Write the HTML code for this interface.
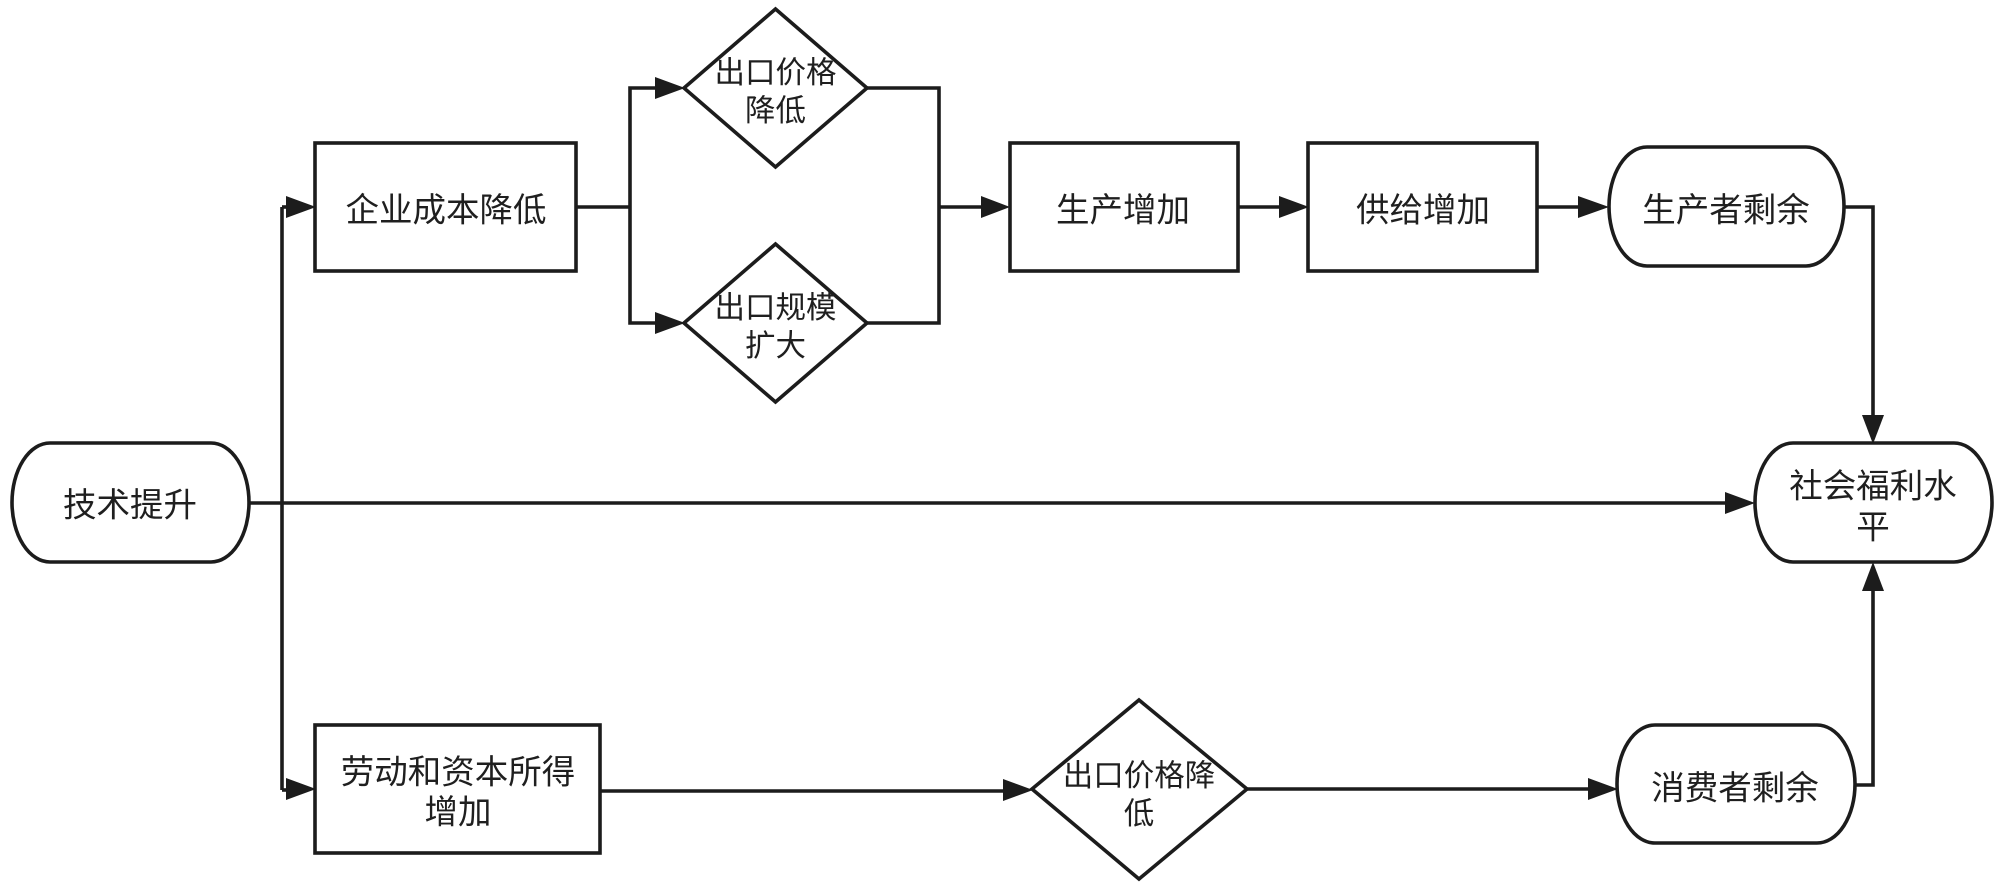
<!DOCTYPE html>
<html lang="zh">
<head>
<meta charset="utf-8">
<title>技术提升与社会福利水平</title>
<style>
html,body{margin:0;padding:0;background:#fff;width:2000px;height:888px;overflow:hidden}
svg{display:block}
.s{fill:#fff;stroke:#1c1c1c;stroke-width:3.6}
.l{fill:none;stroke:#1c1c1c;stroke-width:3.6}
.a{fill:#1c1c1c;stroke:none}
text{font-family:"Liberation Sans","Noto Sans CJK SC",sans-serif;fill:#1f1f1f;text-anchor:middle;dominant-baseline:central;font-size:33.5px}
.d{font-size:30.5px}
</style>
</head>
<body>
<svg width="2000" height="888" viewBox="0 0 2000 888" xmlns="http://www.w3.org/2000/svg">
<rect width="2000" height="888" fill="#fff"/>

<!-- connectors -->
<path class="l" d="M249 503H1730"/>
<path class="l" d="M282 207V790"/>
<path class="l" d="M282 207H290"/>
<path class="l" d="M282 790H290"/>
<path class="l" d="M576 207H630"/>
<path class="l" d="M660 88H630V323H660"/>
<path class="l" d="M867 88H939V323H867"/>
<path class="l" d="M939 207H985"/>
<path class="l" d="M1238 207H1282"/>
<path class="l" d="M1537 207H1582"/>
<path class="l" d="M1844 207H1873V420"/>
<path class="l" d="M600 791H1008"/>
<path class="l" d="M1247 789H1590"/>
<path class="l" d="M1855 785H1873V588"/>

<!-- arrowheads -->
<polygon class="a" points="316,207 286,196 286,218"/>
<polygon class="a" points="316,789 286,778 286,800"/>
<polygon class="a" points="685,88 655,77 655,99"/>
<polygon class="a" points="685,323 655,312 655,334"/>
<polygon class="a" points="1010,207 981,196 981,218"/>
<polygon class="a" points="1309,207 1279,196 1279,218"/>
<polygon class="a" points="1609,207 1578,196 1578,218"/>
<polygon class="a" points="1755,503 1725,492 1725,514"/>
<polygon class="a" points="1033,790 1003,779 1003,801"/>
<polygon class="a" points="1618,789 1588,778 1588,800"/>
<polygon class="a" points="1873,444 1862,415 1884,415"/>
<polygon class="a" points="1873,562 1862,591 1884,591"/>

<!-- nodes -->
<path class="s" d="M50 443H211A38 59.5 0 0 1 211 562H50A38 59.5 0 0 1 50 443Z"/>
<text x="130" y="506">技术提升</text>

<rect class="s" x="315" y="143" width="261" height="128"/>
<text x="446" y="211">企业成本降低</text>

<polygon class="s" points="775.5,9 867,88 775.5,167 684,88"/>
<text class="d" x="775.5" y="73">出口价格</text>
<text class="d" x="775.5" y="111">降低</text>

<polygon class="s" points="775.5,244 867,323 775.5,402 684,323"/>
<text class="d" x="775.5" y="308">出口规模</text>
<text class="d" x="775.5" y="346">扩大</text>

<rect class="s" x="1010" y="143" width="228" height="128"/>
<text x="1123" y="211">生产增加</text>

<rect class="s" x="1308" y="143" width="229" height="128"/>
<text x="1423" y="211">供给增加</text>

<path class="s" d="M1647 147H1806A38 59.5 0 0 1 1806 266H1647A38 59.5 0 0 1 1647 147Z"/>
<text x="1726" y="211">生产者剩余</text>

<path class="s" d="M1793 443H1954A38 59.5 0 0 1 1954 562H1793A38 59.5 0 0 1 1793 443Z"/>
<text x="1873" y="487">社会福利水</text>
<text x="1873" y="528">平</text>

<rect class="s" x="315" y="725" width="285" height="128"/>
<text x="458" y="773">劳动和资本所得</text>
<text x="458" y="813">增加</text>

<polygon class="s" points="1139,700 1247,789 1139,879 1032,789"/>
<text class="d" x="1139" y="776">出口价格降</text>
<text class="d" x="1139" y="814">低</text>

<path class="s" d="M1655 725H1817A38 59 0 0 1 1817 843H1655A38 59 0 0 1 1655 725Z"/>
<text x="1735" y="789">消费者剩余</text>
</svg>
</body>
</html>
